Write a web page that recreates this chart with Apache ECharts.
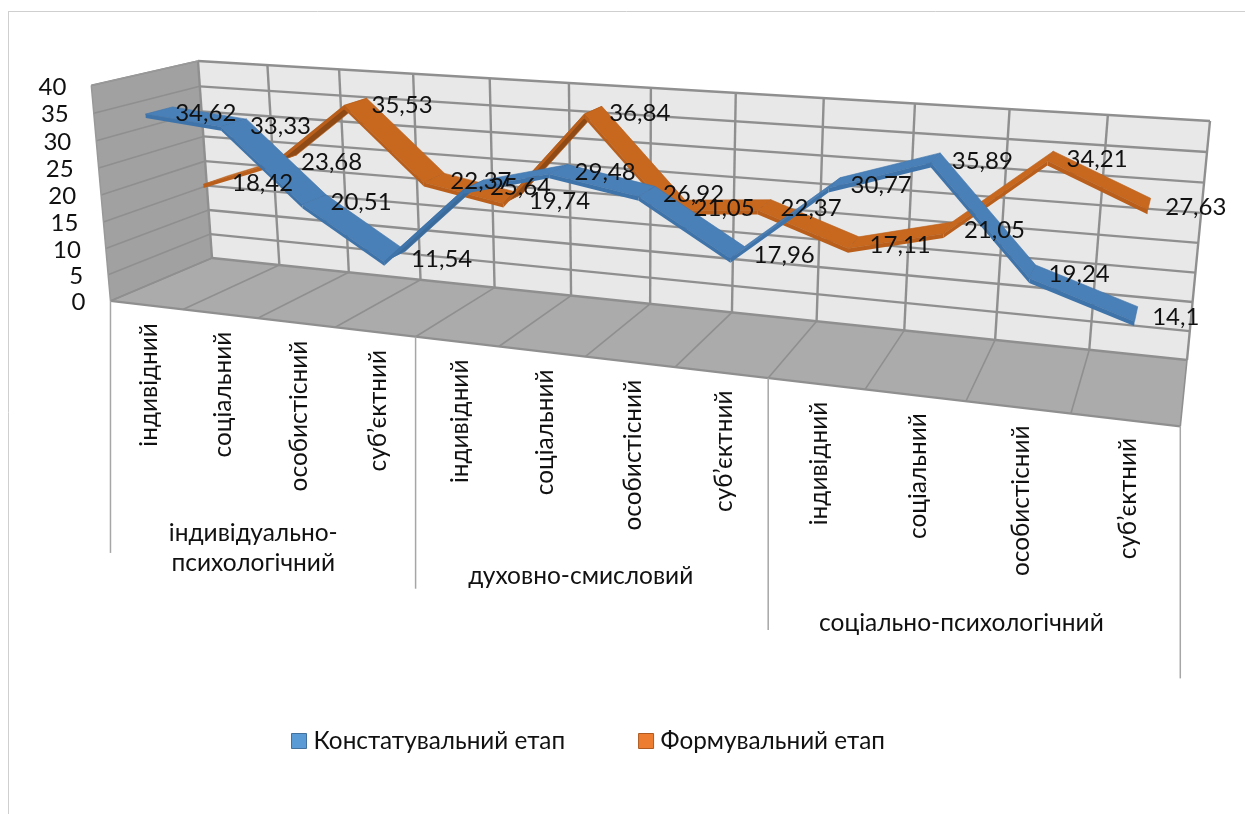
<!DOCTYPE html>
<html><head><meta charset="utf-8">
<style>html,body{margin:0;padding:0;background:#fff}#c{width:1245px;height:814px}</style>
<script src="https://cdn.jsdelivr.net/npm/echarts@6/dist/echarts.min.js"></script>
</head><body><div id="c"></div>
<script>
// ---- data ----
const subCategories = ['індивідний','соціальний','особистісний','суб’єктний','індивідний','соціальний','особистісний','суб’єктний','індивідний','соціальний','особистісний','суб’єктний'];
const groupNames = ['індивідуально-\nпсихологічний','духовно-смисловий','соціально-психологічний'];
const seriesNames = ['Констатувальний етап','Формувальний етап'];
const konstatuvalnyi = [34.62,33.33,20.51,11.54,25.64,29.48,26.92,17.96,30.77,35.89,19.24,14.1];
const formuvalnyi = [18.42,23.68,35.53,22.37,19.74,36.84,21.05,22.37,17.11,21.05,34.21,27.63];
const valueTicks = [0,5,10,15,20,25,30,35,40];

// ---- look ----
const FONT = 'Lato, "Noto Sans", sans-serif';
const C = {wall:'#e8e8e8', side:'#a1a1a1', floor:'#ababab', grid:'#8f8f8f', sep:'#a6a6a6', text:'#111'};
const BLUE = {top:'#4a80b8', under:'#3a6b9b', edge:'#3f74aa'};
const ORANGE = {top:'#c8681f', under:'#8f4a16', edge:'#b95f1b'};
const groupDrop = [200,204,207];

// ---- perspective box: unit (u along categories, v along values, d towards viewer) ----
const BL=[212,258],BR=[1187,360],TR=[1210,121],TL=[198,61],FL=[111,300],FR=[1180,428],FT=[91,85];
const H=(function(){
  const [x0,y0]=BL,[x1,y1]=BR,[x2,y2]=TR,[x3,y3]=TL;
  const dx1=x1-x2,dx2=x3-x2,sx=x0-x1+x2-x3,dy1=y1-y2,dy2=y3-y2,sy=y0-y1+y2-y3;
  const den=dx1*dy2-dx2*dy1,g=(sx*dy2-dx2*sy)/den,h=(dx1*sy-sx*dy1)/den;
  const a=x1-x0+g*x1,b=x3-x0+h*x3,d=y1-y0+g*y1,e=y3-y0+h*y3;
  const m={a,b,c:x0,d,e,f:y0,g,h};
  // depth column: least-squares fit to the three front corners
  const rowsA=[],rhs=[];
  [[0,0,FL],[1,0,FR],[0,1,FT]].forEach(([u,v,q])=>{
    const W=g*u+h*v+1,X=a*u+b*v+x0,Y=d*u+e*v+y0;
    rowsA.push([1,0,-q[0]]);rhs.push(q[0]*W-X);
    rowsA.push([0,1,-q[1]]);rhs.push(q[1]*W-Y);
  });
  const N=[[0,0,0,0],[0,0,0,0],[0,0,0,0]];
  rowsA.forEach((r,k)=>{for(let i=0;i<3;i++){for(let j=0;j<3;j++)N[i][j]+=r[i]*r[j];N[i][3]+=r[i]*rhs[k];}});
  for(let i=0;i<3;i++){
    for(let k=i+1;k<3;k++){
      const f=N[k][i]/N[i][i];
      for(let j=i;j<4;j++)N[k][j]-=f*N[i][j];
    }
  }
  const s=[0,0,0];
  for(let i=2;i>=0;i--){
    let t=N[i][3];
    for(let j=i+1;j<3;j++)t-=N[i][j]*s[j];
    s[i]=t/N[i][i];
  }
  m.A=s[0];m.B=s[1];m.C=s[2];
  return m;
})();
function P(u,v,d){
  const w=H.g*u+H.h*v+1+d*H.C;
  return [(H.a*u+H.b*v+H.c+d*H.A)/w,(H.d*u+H.e*v+H.f+d*H.B)/w];
}
function uv(api,sys,cat,val){
  const p=api.coord([cat,val]);
  return [(p[0]-sys.x)/sys.width,(sys.y+sys.height-p[1])/sys.height];
}
function poly(points,fill,stroke,lw){
  return {type:'polygon',shape:{points},style:{fill,stroke:stroke||null,lineWidth:lw||0}};
}
function seg(a,b,lw,color){
  return {type:'line',shape:{x1:a[0],y1:a[1],x2:b[0],y2:b[1]},style:{stroke:color||C.grid,lineWidth:lw}};
}
function txt(x,y,text,o){
  return {type:'text',x,y,rotation:o.rot||0,style:Object.assign({text,fill:C.text,font:o.size+'px '+FONT,textAlign:o.align||'left',textVerticalAlign:o.va||'middle'},o.extra||{})};
}

// ---- box (walls, floor, grid lines) ----
function renderBox(params,api){
  const s=params.coordSys,kids=[],n=subCategories.length;
  kids.push(poly([P(0,0,0),P(1,0,0),P(1,1,0),P(0,1,0)],C.wall));
  kids.push(poly([P(0,0,1),P(0,0,0),P(0,1,0),P(0,1,1)],C.side));
  kids.push(poly([P(0,0,1),P(1,0,1),P(1,0,0),P(0,0,0)],C.floor));
  valueTicks.forEach(t=>{
    const v=uv(api,s,0,t)[1];
    kids.push(seg(P(0,v,1),P(0,v,0),1.6));
    kids.push(seg(P(0,v,0),P(1,v,0),2.4));
  });
  for(let i=0;i<=n;i++){
    const u=i/n;
    kids.push(seg(P(u,0,0),P(u,1,0),2.4));
    kids.push(seg(P(u,0,1),P(u,0,0),1.6));
  }
  kids.push(seg(P(0,0,1),P(1,0,1),2.2));
  kids.push(seg(P(0,1,0),P(0,1,1),1.5,'#999'));
  kids.push(seg(P(0,1,1),P(0,0,1),1.5,'#999'));
  return {type:'group',children:kids};
}

// ---- axis text and group separators ----
function renderAxisText(params,api){
  const s=params.coordSys,kids=[],n=subCategories.length;
  valueTicks.forEach(t=>{
    const v=uv(api,s,0,t)[1],p=P(0,v,1);
    kids.push(txt(p[0]-25,p[1]+1.5,String(t),{size:24,align:'right'}));
  });
  subCategories.forEach((name,i)=>{
    const p=P(uv(api,s,i,0)[0],0,1);
    kids.push(txt(p[0]+3,p[1]+18,name,{size:24.4,align:'right',rot:Math.PI/2}));
  });
  [0,4,8,12].forEach(i=>{
    const p=P(i/n,0,1);
    kids.push(seg(p,[p[0],p[1]+252],1.5,C.sep));
  });
  groupNames.forEach((g,k)=>{
    const p=P((4*k+2)/n,0,1);
    kids.push(txt(p[0]-4.5,p[1]+groupDrop[k],g,{size:24.5,align:'center',va:'top',extra:{lineHeight:30}}));
  });
  return {type:'group',children:kids};
}

// ---- ribbons ----
function ribbon(values,d0,d1,col){
  return function(params,api){
    const i=api.value(0);
    if(i>=values.length-1) return null;
    const s=params.coordSys;
    const a=uv(api,s,i,values[i]),b=uv(api,s,i+1,values[i+1]);
    const th=0.018;
    const pts=[P(a[0],a[1],d1),P(b[0],b[1],d1),P(b[0],b[1],d0),P(a[0],a[1],d0)];
    let area=0;
    pts.forEach((p,k)=>{const q=pts[(k+1)%4];area+=p[0]*q[1]-q[0]*p[1];});
    const front=[P(a[0],a[1],d1),P(b[0],b[1],d1),P(b[0],b[1]-th,d1),P(a[0],a[1]-th,d1)];
    return {type:'group',children:[
      poly(pts,area>0?col.under:col.top,col.edge,0.6),
      poly(front,col.edge)
    ]};
  };
}
function labels(values,d){
  return function(params,api){
    const i=api.value(0),s=params.coordSys,a=uv(api,s,i,values[i]),p=P(a[0],a[1],d);
    return txt(p[0]+16,p[1]+3,String(values[i]).replace('.',','),{size:24});
  };
}
const D={blue:[0.62,0.87],orange:[0.12,0.38]};
const rows=a=>a.map((v,i)=>[i,v]);
const dims={x:0,y:1};

const chart=echarts.init(document.getElementById('c'));
chart.setOption({
  animation:false,
  backgroundColor:'#fff',
  grid:{left:200,top:60,width:1000,height:300},
  xAxis:{type:'category',data:subCategories,show:false},
  yAxis:{type:'value',min:0,max:40,interval:5,show:false},
  legend:{left:291,top:729,padding:0,itemWidth:15,itemHeight:15,itemGap:73,icon:'rect',selectedMode:false,
    textStyle:{fontFamily:FONT,fontSize:24.3,color:C.text,padding:[0,0,0,2]},
    data:[
      {name:seriesNames[0],itemStyle:{color:'#5b9bd5',borderColor:'#41719c',borderWidth:1}},
      {name:seriesNames[1],itemStyle:{color:'#ed7d31',borderColor:'#ae5a21',borderWidth:1}}
    ]},
  graphic:[
    {type:'line',shape:{x1:8,y1:11.5,x2:1245,y2:11.5},style:{stroke:'#cfcfcf',lineWidth:1},silent:true},
    {type:'line',shape:{x1:8.5,y1:11,x2:8.5,y2:814},style:{stroke:'#cfcfcf',lineWidth:1},silent:true}
  ],
  series:[
    {type:'custom',name:'box',z:1,data:[[0,0]],encode:dims,renderItem:renderBox,silent:true},
    {type:'custom',name:seriesNames[1],z:2,data:rows(formuvalnyi),encode:dims,renderItem:ribbon(formuvalnyi,D.orange[0],D.orange[1],ORANGE)},
    {type:'custom',name:seriesNames[0],z:3,data:rows(konstatuvalnyi),encode:dims,renderItem:ribbon(konstatuvalnyi,D.blue[0],D.blue[1],BLUE)},
    {type:'custom',name:'axisText',z:4,data:[[0,0]],encode:dims,renderItem:renderAxisText,silent:true},
    {type:'custom',name:'formLabels',z:5,data:rows(formuvalnyi),encode:dims,renderItem:labels(formuvalnyi,(D.orange[0]+D.orange[1])/2),silent:true},
    {type:'custom',name:'konstLabels',z:5,data:rows(konstatuvalnyi),encode:dims,renderItem:labels(konstatuvalnyi,(D.blue[0]+D.blue[1])/2),silent:true}
  ]
});
</script></body></html>
